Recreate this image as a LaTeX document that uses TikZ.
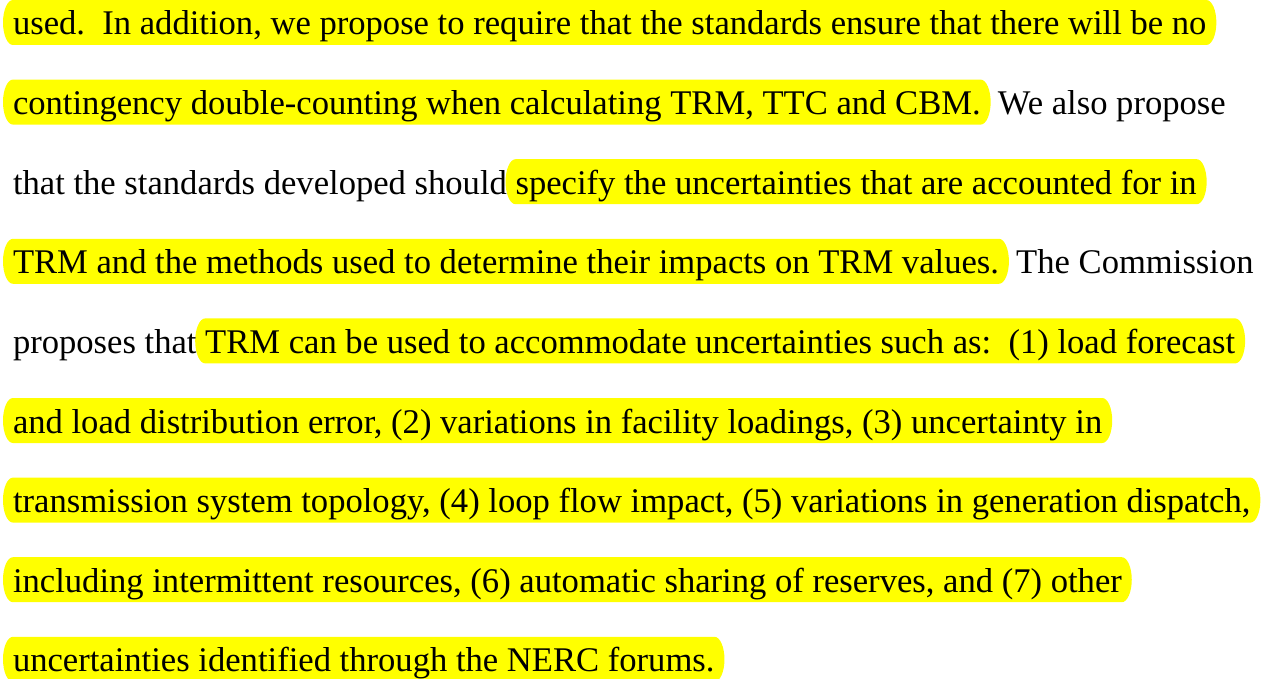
\documentclass[tikz,border=0pt]{standalone}
\usepackage{fontspec}
\setmainfont{Liberation Serif}[Ligatures={TeX,NoCommon}]
\usetikzlibrary{calc}
\definecolor{hlyellow}{HTML}{FFFF00}
\pgfdeclarelayer{bg}
\pgfsetlayers{bg,main}
\newcommand{\hlband}[1]{%
  \begin{pgfonlayer}{bg}
  \fill[hlyellow] ($(#1.base west)+(0,35)$) -- ($(#1.base east)+(0,35)$)
     arc[start angle=90,end angle=-90,x radius=10,y radius=22.5]
     -- ($(#1.base west)+(0,-10)$)
     arc[start angle=270,end angle=90,x radius=10,y radius=22.5] -- cycle;
  \end{pgfonlayer}}
\tikzset{txt/.style={inner sep=0pt, outer sep=0pt, anchor=base west, font=\fontsize{34.6}{40}\selectfont}}
\frenchspacing
\begin{document}
\begin{tikzpicture}[x=1pt,y=1pt]
\useasboundingbox (0,0) rectangle (1266,-679);
\def\lx{13}
% line 1
\node[txt] (l1a) at (\lx,-35) {used.\ \ In addition, we propose to require that the standards ensure that there will be no};
\hlband{l1a}
% line 2
\node[txt] (l2a) at (\lx,-114.6) {contingency double-counting when calculating TRM, TTC and CBM.};
\node[txt] (l2b) at (l2a.base east) {\ \ We also propose};
\hlband{l2a}
% line 3
\node[txt] (l3a) at (\lx,-194.2) {that the standards developed should\ \mbox{}};
\node[txt] (l3b) at (l3a.base east) {specify the uncertainties that are accounted for in};
\hlband{l3b}
% line 4
\node[txt] (l4a) at (\lx,-273.8) {TRM and the methods used to determine their impacts on TRM values.};
\node[txt] (l4b) at (l4a.base east) {\ \ The Commission};
\hlband{l4a}
% line 5
\node[txt] (l5a) at (\lx,-353.4) {proposes that\ \mbox{}};
\node[txt] (l5b) at (l5a.base east) {TRM can be used to accommodate uncertainties such as:\ \ (1) load forecast};
\hlband{l5b}
% line 6
\node[txt] (l6a) at (\lx,-433) {and load distribution error, (2) variations in facility loadings, (3) uncertainty in};
\hlband{l6a}
% line 7
\node[txt] (l7a) at (\lx,-512.6) {transmission system topology, (4) loop flow impact, (5) variations in generation dispatch,};
\hlband{l7a}
% line 8
\node[txt] (l8a) at (\lx,-592.2) {including intermittent resources, (6) automatic sharing of reserves, and (7) other};
\hlband{l8a}
% line 9
\node[txt] (l9a) at (\lx,-671.8) {uncertainties identified through the NERC forums.};
\hlband{l9a}
\end{tikzpicture}
\end{document}
